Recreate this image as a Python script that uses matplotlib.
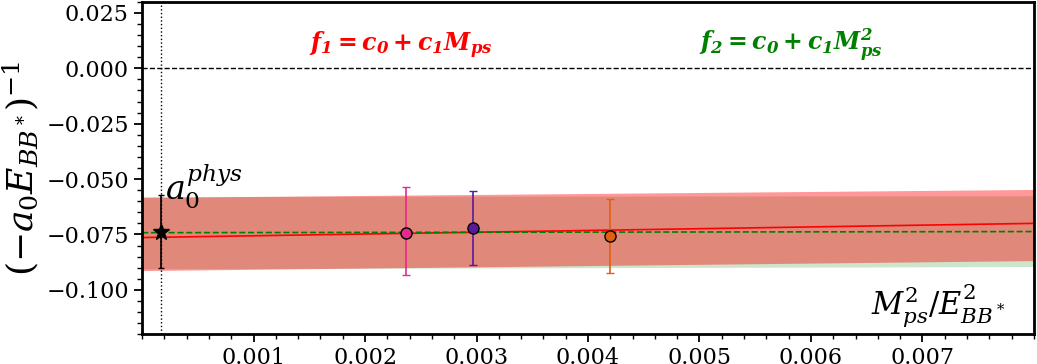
import numpy as np
import matplotlib
matplotlib.use("Agg")
import matplotlib.pyplot as plt
from matplotlib.ticker import MultipleLocator, FixedLocator, FuncFormatter

# ---- data ----
x_data = [0.00237, 0.00297, 0.00420]
y_data = [-0.0742, -0.0719, -0.0759]
y_err_lo = [0.0189, 0.0167, 0.0163]
y_err_hi = [0.0204, 0.0167, 0.0171]
point_colors = ["#e7298a", "#5a1a9a", "#e06010"]

x_phys = 0.00017
y_phys = -0.0740
phys_err_lo = 0.0160
phys_err_hi = 0.0170

# fit curves (evaluated at ends of the x range)
fit_x = [0.0, 0.0080]
f1_center = [-0.0764, -0.0700]
f1_upper = [-0.0583, -0.0547]
f1_lower = [-0.0913, -0.0868]
f2_center = [-0.0742, -0.0737]
f2_upper = [-0.0579, -0.0575]
f2_lower = [-0.0905, -0.0895]

xticks = [0.001, 0.002, 0.003, 0.004, 0.005, 0.006, 0.007]
yticks = [-0.100, -0.075, -0.050, -0.025, 0.000, 0.025]

plt.rcParams["font.family"] = ["DejaVu Serif"]
plt.rcParams["font.serif"] = ["DejaVu Serif"]
plt.rcParams["mathtext.fontset"] = "dejavuserif"
plt.rcParams["xtick.labelsize"] = 16
plt.rcParams["ytick.labelsize"] = 16

fig = plt.figure(figsize=(10.37, 3.64), dpi=100)
ax = fig.add_axes([0.137, 0.082, 0.860, 0.913])

xs = np.linspace(fit_x[0], fit_x[1], 200)
def lin(vals):
    return np.interp(xs, fit_x, vals)

ax.fill_between(xs, lin(f2_lower), lin(f2_upper), color="green", alpha=0.2, lw=0)
ax.fill_between(xs, lin(f1_lower), lin(f1_upper), color="red", alpha=0.4, lw=0)
ax.plot(xs, lin(f1_center), color="red", lw=1.2)
ax.plot(xs, lin(f2_center), color="green", lw=1.2, ls="--")

ax.axhline(0.0, color="black", lw=1.0, ls="--")
ax.axvline(x_phys, color="black", lw=1.0, ls=":")

for xi, yi, lo, hi, c in zip(x_data, y_data, y_err_lo, y_err_hi, point_colors):
    ax.errorbar([xi], [yi], yerr=[[lo], [hi]], fmt="o", color=c, ms=8,
                mec="black", mew=1.0, capsize=3, elinewidth=1.2, zorder=5)

ax.errorbar([x_phys], [y_phys], yerr=[[phys_err_lo], [phys_err_hi]], fmt="*",
            color="black", ms=12, capsize=2, elinewidth=1.2, zorder=6)

ax.text(0.00021, -0.0535, r"$a_0^{phys}$", fontsize=24, ha="left", va="center")
ax.text(0.00232, 0.0105, r"$\mathbfit{f_1 = c_0 + c_1 M_{ps}}$", color="red",
        fontsize=17, ha="center", va="center")
ax.text(0.00582, 0.0105, r"$\mathbfit{f_2 = c_0 + c_1 M^2_{ps}}$", color="green",
        fontsize=17, ha="center", va="center")
ax.text(0.00775, -0.1070, r"$M^2_{ps}/E^2_{BB^*}$", fontsize=22, ha="right", va="center")

ax.set_ylabel(r"$(-a_0 E_{BB^*})^{-1}$", fontsize=26, labelpad=4)

ax.set_xlim(0.0, 0.0080)
ax.set_ylim(-0.120, 0.030)
ax.xaxis.set_major_locator(FixedLocator(xticks))
ax.xaxis.set_minor_locator(MultipleLocator(0.0002))
ax.yaxis.set_major_locator(FixedLocator(yticks))
ax.yaxis.set_minor_locator(MultipleLocator(0.005))
ax.xaxis.set_major_formatter(FuncFormatter(lambda v, p: f"{v:.3f}"))
ax.yaxis.set_major_formatter(FuncFormatter(lambda v, p: f"{v:.3f}".replace("-", "\u2212")))
ax.tick_params(axis="both", which="major", labelsize=16, length=6, width=1.3,
               direction="out", labelfontfamily="DejaVu Serif")
ax.tick_params(axis="both", which="minor", length=3.5, width=1.0, direction="out")
for s in ax.spines.values():
    s.set_linewidth(2.0)

fig.savefig("out.png", dpi=100)
